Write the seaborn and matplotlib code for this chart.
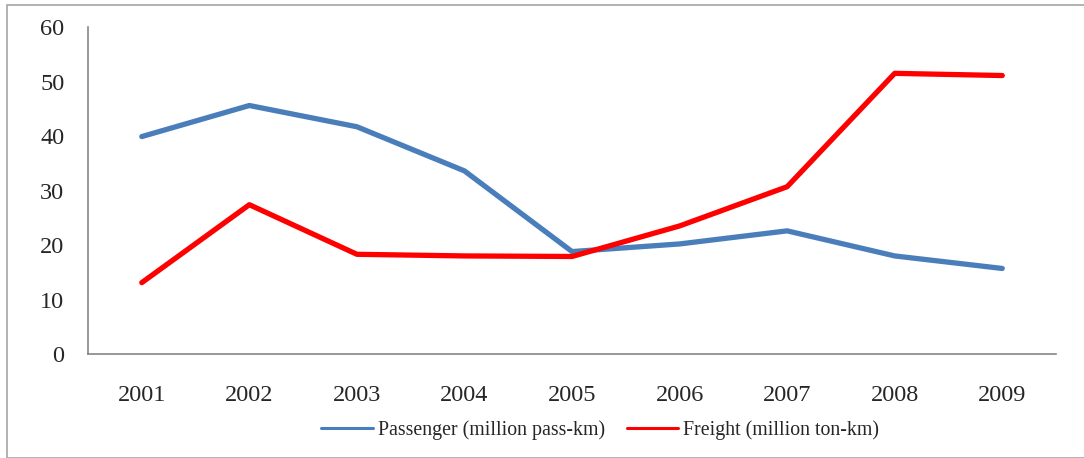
import pandas as pd
import numpy as np
import matplotlib.pyplot as plt
import seaborn as sns
from matplotlib.patches import Rectangle

# Dữ liệu
years = [2001, 2002, 2003, 2004, 2005, 2006, 2007, 2008, 2009]
passenger = [39.9, 45.6, 41.7, 33.6, 18.8, 20.2, 22.6, 18.0, 15.7]
freight = [13.1, 27.4, 18.3, 18.0, 17.9, 23.5, 30.7, 51.5, 51.1]
series_names = ["Passenger (million pass-km)", "Freight (million ton-km)"]
y_ticks = [0, 10, 20, 30, 40, 50, 60]

sns.set_style("white")
plt.rcParams['font.family'] = ['Liberation Serif', 'DejaVu Serif']

df = pd.DataFrame({
    "Year": years * 2,
    "Value": passenger + freight,
    "Series": [series_names[0]] * len(years) + [series_names[1]] * len(years),
})

fig = plt.figure(figsize=(10.84, 4.58), dpi=100)
ax = fig.add_axes([0.0812, 0.227, 0.893, 0.714])

# Khung viền ngoài màu xám
fig.patches.append(Rectangle((7 / 1084, 0), 1.2, (458 - 5) / 458, transform=fig.transFigure,
                             fill=False, edgecolor="#a6a6a6", linewidth=1.2))

palette = {series_names[0]: "#4a7ebb", series_names[1]: "#ff0000"}
sns.lineplot(data=df, x="Year", y="Value", hue="Series", palette=palette,
             linewidth=3.8, ax=ax, solid_capstyle="round")

ax.set_xlim(2000.5, 2009.5)
ax.set_ylim(0, 60)
ax.set_yticks(y_ticks)
ax.set_xticks(years)
ax.set_xticklabels([str(y) for y in years])
ax.set_xticks(np.arange(2000.5, 2010, 1), minor=True)
ax.tick_params(axis="x", which="major", length=0, pad=22, labelsize=17.5)
ax.tick_params(axis="x", which="minor", length=5, width=1.2, color="#868686", direction="out")
ax.tick_params(axis="y", length=5, width=1.2, color="#868686", direction="out", pad=12, labelsize=17.5)
ax.set_xlabel("")
ax.set_ylabel("")

for side in ["top", "right"]:
    ax.spines[side].set_visible(False)
for side in ["left", "bottom"]:
    ax.spines[side].set_color("#868686")
    ax.spines[side].set_linewidth(1.2)

handles, labels = ax.get_legend_handles_labels()
leg = ax.legend(handles, labels, loc="center", bbox_to_anchor=(0.529, -0.232), ncol=2,
                frameon=False, fontsize=14.3, handlelength=2.6, handletextpad=0.25,
                columnspacing=1.1)
for line in leg.get_lines():
    line.set_linewidth(2.2)

plt.savefig("out.png", dpi=100)
